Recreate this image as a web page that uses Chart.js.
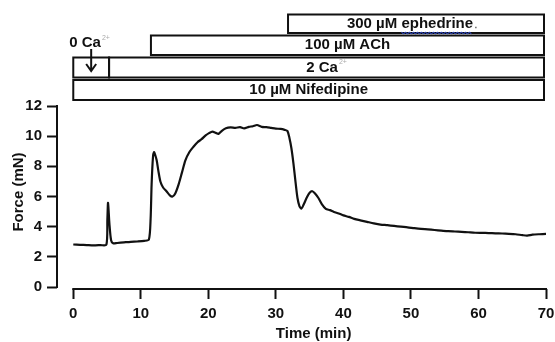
<!DOCTYPE html>
<html><head><meta charset="utf-8">
<script src="https://cdn.jsdelivr.net/npm/chart.js@4"></script>
<style>html,body{margin:0;padding:0;background:#fff}</style>
</head><body>
<canvas id="c" width="555" height="342"></canvas>
<script>
// ---- data ----
const timeMin = [0,1,2,3,4,4.9,5.05,5.15,5.35,5.6,5.9,6.5,7.5,8.5,9.5,10.5,11.2,11.45,11.6,11.8,11.95,12.1,12.35,12.6,12.9,13.3,13.8,14.3,14.7,15.1,15.6,16.1,16.6,17.2,17.8,18.4,19.0,19.6,20.1,20.6,21.1,21.5,22.0,22.6,23.3,24.0,24.7,25.3,26.0,26.6,27.2,27.9,28.6,29.3,30.0,30.7,31.3,31.7,32.0,32.3,32.6,32.9,33.2,33.5,33.8,34.1,34.6,35.0,35.4,35.8,36.3,36.8,37.4,38.0,38.6,39.3,40.0,40.8,41.6,42.5,43.5,44.5,45.5,46.5,47.5,48.5,49.5,50.5,51.5,52.5,53.5,54.5,55.5,56.5,57.5,58.5,59.5,60.5,61.5,62.5,63.5,64.5,65.5,66.5,67.2,68,69,70];
const forceMN = [2.82,2.80,2.78,2.76,2.78,2.80,4.5,5.58,4.2,3.1,2.9,2.92,2.96,3.0,3.02,3.06,3.15,4.5,6.8,8.6,8.95,8.8,8.4,7.7,7.0,6.6,6.35,6.08,6.0,6.2,6.8,7.6,8.4,8.95,9.3,9.6,9.8,10.05,10.2,10.3,10.22,10.15,10.35,10.52,10.58,10.55,10.6,10.52,10.62,10.66,10.74,10.62,10.6,10.55,10.5,10.48,10.42,10.35,9.9,9.2,8.2,7.0,5.9,5.35,5.2,5.45,5.95,6.25,6.35,6.2,5.9,5.5,5.18,5.1,4.98,4.88,4.75,4.65,4.52,4.42,4.32,4.22,4.14,4.1,4.05,4.0,3.96,3.9,3.85,3.82,3.78,3.74,3.7,3.68,3.66,3.63,3.6,3.59,3.58,3.56,3.55,3.53,3.5,3.44,3.41,3.47,3.5,3.52];
const xTicks = [0,10,20,30,40,50,60,70];
const yTicks = [0,2,4,6,8,10,12];
const treatmentLabels = ['300 µM ephedrine','100 µM ACh','0 Ca','2 Ca','10 µM Nifedipine'];
const treatmentSup = ['','','2+','2+',''];
const treatmentStart = [31.8,11.5,0,5.3,0];
const treatmentEnd = [70,70,5.3,70,70];
const xTitle = 'Time (min)';
const yTitle = 'Force (mN)';

// ---- layout ----
const FONT = "'Liberation Sans', Arial, sans-serif";
const rowY = [[14.5,33],[35.5,55],[57.5,77.5],[80,100]];
const treatmentRow = [0,1,2,2,3];

const overlay = {
  id: 'overlay',
  afterDraw(chart) {
    const ctx = chart.ctx, xs = chart.scales.x, ys = chart.scales.y, ca = chart.chartArea;
    const xMaxV = xTicks[xTicks.length-1];
    const x0 = xs.getPixelForValue(xTicks[0]), x1 = xs.getPixelForValue(xMaxV);
    ctx.save();
    ctx.strokeStyle = '#111'; ctx.fillStyle = '#111'; ctx.lineWidth = 2;
    // axes
    ctx.beginPath();
    ctx.moveTo(ca.left, ys.getPixelForValue(yTicks[yTicks.length-1]) - 1);
    ctx.lineTo(ca.left, ys.getPixelForValue(yTicks[0]) + 1);
    ctx.moveTo(x0 - 1, ca.bottom);
    ctx.lineTo(x1 + 1, ca.bottom);
    ctx.stroke();
    // titles
    ctx.font = 'bold 15px ' + FONT;
    ctx.textAlign = 'center'; ctx.textBaseline = 'middle';
    ctx.fillText(xTitle, (x0 + x1) / 2 + 4, 334);
    ctx.save();
    ctx.translate(19, 192); ctx.rotate(-Math.PI / 2);
    ctx.fillText(yTitle, 0, 0);
    ctx.restore();
    // treatment boxes
    treatmentLabels.forEach((lab, i) => {
      const bx0 = xs.getPixelForValue(treatmentStart[i]);
      const bx1 = xs.getPixelForValue(treatmentEnd[i]) - (treatmentEnd[i] === xMaxV ? 2 : 0);
      const [ty, by] = rowY[treatmentRow[i]];
      ctx.lineWidth = 2; ctx.strokeStyle = '#111';
      ctx.strokeRect(bx0, ty, bx1 - bx0, by - ty);
      ctx.font = 'bold 15px ' + FONT;
      ctx.textBaseline = 'middle';
      let tx, tyc;
      if (treatmentEnd[i] - treatmentStart[i] < 8) {
        ctx.textAlign = 'left';
        tx = bx0 - 4; tyc = 43;
        ctx.fillText(lab, tx, tyc);
        const w = ctx.measureText(lab).width;
        if (treatmentSup[i]) {
          ctx.font = '7px ' + FONT; ctx.fillStyle = '#aaa';
          ctx.fillText(treatmentSup[i], tx + w + 1, tyc - 5);
          ctx.fillStyle = '#111';
        }
        const ax = (bx0 + bx1) / 2;
        ctx.beginPath();
        ctx.moveTo(ax, 49); ctx.lineTo(ax, 71);
        ctx.moveTo(ax - 5, 64); ctx.lineTo(ax, 71); ctx.lineTo(ax + 5, 64);
        ctx.stroke();
      } else {
        const w = ctx.measureText(lab).width;
        let sw = 0;
        if (treatmentSup[i]) { ctx.font = '7px ' + FONT; sw = ctx.measureText(treatmentSup[i]).width + 1; ctx.font = 'bold 15px ' + FONT; }
        const cx = (bx0 + bx1) / 2 - (i === 0 ? 6 : 0);
        tx = cx - (w + sw) / 2; tyc = (ty + by) / 2;
        ctx.textAlign = 'left';
        ctx.fillText(lab, tx, tyc);
        if (treatmentSup[i]) {
          ctx.font = '7px ' + FONT; ctx.fillStyle = '#aaa';
          ctx.fillText(treatmentSup[i], tx + w + 1, tyc - 5);
          ctx.fillStyle = '#111';
        }
        if (lab.indexOf('ephedrine') >= 0) {
          ctx.font = 'bold 15px ' + FONT;
          const pre = ctx.measureText(lab.slice(0, lab.indexOf('ephedrine'))).width;
          const ew = ctx.measureText('ephedrine').width;
          const sx = tx + pre, ex = sx + ew;
          ctx.strokeStyle = '#3a5cff'; ctx.lineWidth = 1;
          ctx.beginPath();
          for (let px = sx, k = 0; px <= ex; px += 2, k++) {
            const py = tyc + 9 + (k % 2 ? 1 : -0.5);
            if (k === 0) ctx.moveTo(px, py); else ctx.lineTo(px, py);
          }
          ctx.stroke();
          ctx.fillStyle = '#666';
          ctx.fillRect(ex + 2, tyc + 3, 1.5, 1.5);
          ctx.fillStyle = '#111';
        }
      }
    });
    ctx.restore();
  }
};

new Chart(document.getElementById('c'), {
  type: 'line',
  data: {
    datasets: [{
      data: timeMin.map((t, i) => ({x: t, y: forceMN[i]})),
      borderColor: '#111',
      borderWidth: 2.2,
      pointRadius: 0,
      tension: 0.25,
      fill: false
    }]
  },
  options: {
    responsive: false,
    animation: false,
    devicePixelRatio: 1,
    layout: { padding: { top: 106, right: 9, bottom: 0, left: 0 } },
    plugins: { legend: { display: false }, tooltip: { enabled: false } },
    scales: {
      x: {
        type: 'linear', min: -2.41, max: 70,
        afterBuildTicks: s => { s.ticks = xTicks.map(v => ({value: v})); },
        afterFit: s => { s.height = 53; s.paddingLeft = 0; s.paddingRight = 0; },
        border: { display: false },
        grid: { drawOnChartArea: false, drawTicks: true, tickLength: 10, tickWidth: 2, tickColor: '#111' },
        ticks: { padding: 6, color: '#111', font: { family: FONT, size: 15, weight: 'bold' }, maxRotation: 0 }
      },
      y: {
        type: 'linear', min: -0.13, max: 12,
        afterBuildTicks: s => { s.ticks = yTicks.map(v => ({value: v})); },
        afterFit: s => { s.width = 57; s.paddingTop = 0; s.paddingBottom = 0; },
        border: { display: false },
        grid: { drawOnChartArea: false, drawTicks: true, tickLength: 10, tickWidth: 2, tickColor: '#111' },
        ticks: { padding: 5, color: '#111', font: { family: FONT, size: 15, weight: 'bold' } }
      }
    }
  },
  plugins: [overlay]
});
</script>
</body></html>
